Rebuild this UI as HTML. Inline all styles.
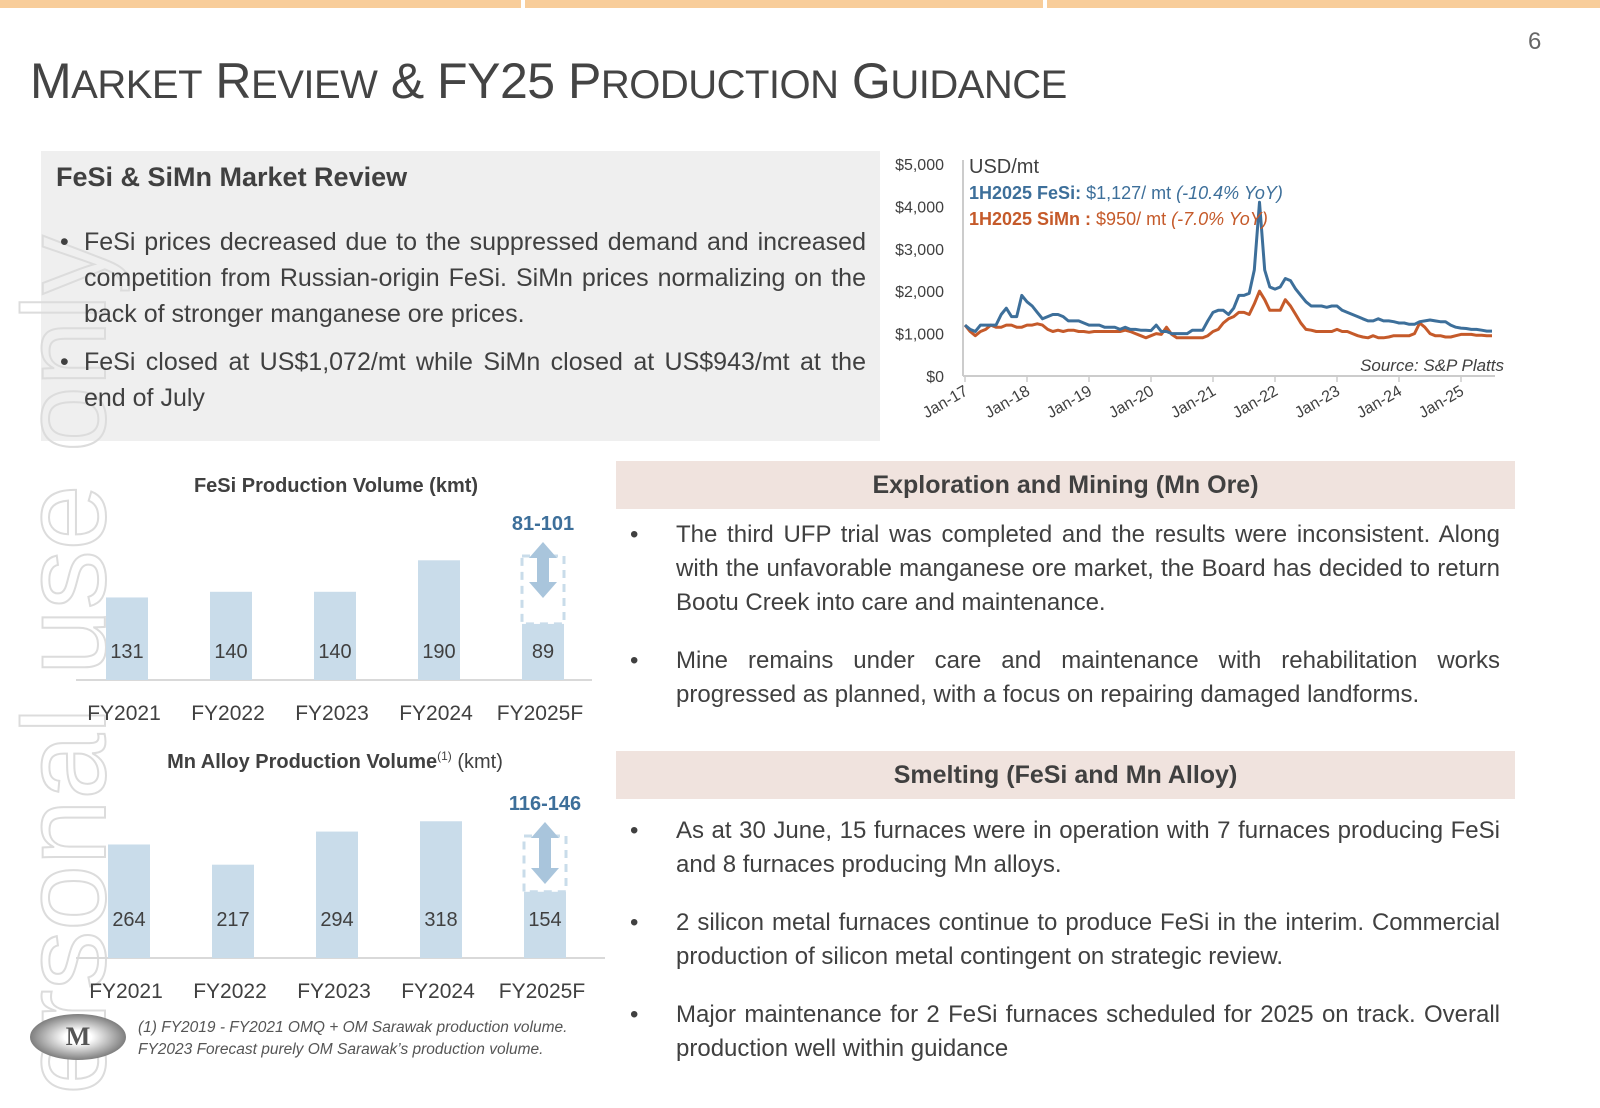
<!DOCTYPE html>
<html><head><meta charset="utf-8">
<style>
*{margin:0;padding:0;box-sizing:border-box}
body{width:1600px;height:1108px;position:relative;overflow:hidden;background:#fff;font-family:"Liberation Sans",sans-serif;color:#404040}
.abs{position:absolute}
.stripe{position:absolute;top:0;height:8px;background:#f8cd9a}
.title{left:30px;top:52px;font-size:50px;letter-spacing:-0.5px;color:#444;white-space:nowrap}
.title small{font-size:40px}
.box{left:41px;top:151px;width:839px;height:290px;background:#efefef}
.bul{position:absolute;text-align:justify;text-align-last:left}
.bul li{list-style:none;position:relative}
.bul li:before{content:"•";position:absolute;left:4px;top:0}
.bul.r li:before{left:2px}
.hdr{position:absolute;left:616px;width:899px;height:48px;background:#f0e3de;font-weight:bold;font-size:25px;text-align:center;line-height:48px;color:#404040}
.wm{position:absolute;left:-375px;top:595px;width:880px;font-size:118px;line-height:140px;transform:rotate(-90deg);color:transparent;-webkit-text-stroke:2px #dcdcdc;white-space:nowrap;font-family:"Liberation Sans",sans-serif;text-align:center}
</style></head><body>
<div class="stripe" style="left:0;width:521px"></div>
<div class="stripe" style="left:525px;width:518px"></div>
<div class="stripe" style="left:1047px;width:553px"></div>
<div class="abs" style="left:1528px;top:28px;font-size:24px;color:#666">6</div>
<div class="abs title">M<small>ARKET</small> R<small>EVIEW</small> &amp; FY25 P<small>RODUCTION</small> G<small>UIDANCE</small></div>

<div class="abs box"></div>
<div class="wm">ersonal use only</div>
<div class="abs" style="left:56px;top:162px;font-size:27px;font-weight:bold">FeSi &amp; SiMn Market Review</div>
<ul class="bul" style="left:56px;top:224px;width:810px;font-size:25px;line-height:36px">
<li style="padding-left:28px;margin-bottom:12px">FeSi prices decreased due to the suppressed demand and increased competition from Russian-origin FeSi. SiMn prices normalizing on the back of stronger manganese ore prices.</li>
<li style="padding-left:28px">FeSi closed at US$1,072/mt while SiMn closed at US$943/mt at the end of July</li>
</ul>

<svg id="price" class="abs" style="left:0;top:0" width="1600" height="460"></svg>

<div class="hdr" style="top:461px">Exploration and Mining (Mn Ore)</div>
<ul class="bul r" style="left:628px;top:518px;width:872px;font-size:24px;line-height:34px">
<li style="padding-left:48px;margin-bottom:24px">The third UFP trial was completed and the results were inconsistent. Along with the unfavorable manganese ore market, the Board has decided to return Bootu Creek into care and maintenance.</li>
<li style="padding-left:48px">Mine remains under care and maintenance with rehabilitation works progressed as planned, with a focus on repairing damaged landforms.</li>
</ul>
<div class="hdr" style="top:751px">Smelting (FeSi and Mn Alloy)</div>
<ul class="bul r" style="left:628px;top:814px;width:872px;font-size:24px;line-height:34px">
<li style="padding-left:48px;margin-bottom:24px">As at 30 June, 15 furnaces were in operation with 7 furnaces producing FeSi and 8 furnaces producing Mn alloys.</li>
<li style="padding-left:48px;margin-bottom:24px">2 silicon metal furnaces continue to produce FeSi in the interim. Commercial production of silicon metal contingent on strategic review.</li>
<li style="padding-left:48px">Major maintenance for 2 FeSi furnaces scheduled for 2025 on track. Overall production well within guidance</li>
</ul>

<svg id="bars" class="abs" style="left:0;top:460px" width="610" height="648"></svg>

<div class="abs" style="left:30px;top:1014px;width:96px;height:46px;border-radius:50%;background:radial-gradient(ellipse at center,#fff 20%,#999 60%,#333 100%);text-align:center;font:bold 26px 'Liberation Serif',serif;line-height:46px;color:#555">M</div>
<div class="abs" style="left:138px;top:1017px;font-size:15.5px;font-style:italic;line-height:22px;color:#555">(1) FY2019 - FY2021 OMQ + OM Sarawak production volume.<br>FY2023 Forecast purely OM Sarawak’s production volume.</div>

<script>
const NS="http://www.w3.org/2000/svg";
function mk(p,t,a,txt){const e=document.createElementNS(NS,t);for(const k in a)e.setAttribute(k,a[k]);if(txt!==undefined)e.textContent=txt;p.appendChild(e);return e;}
// ---- price chart data ----
const yearLabels=["Jan-17","Jan-18","Jan-19","Jan-20","Jan-21","Jan-22","Jan-23","Jan-24","Jan-25"];
const yTicks=[0,1000,2000,3000,4000,5000];
const yTickLabels=["$0","$1,000","$2,000","$3,000","$4,000","$5,000"];
const fesi=[1200,1100,1050,1200,1200,1200,1200,1450,1600,1400,1400,1900,
1750,1650,1500,1350,1400,1450,1450,1400,1300,1300,1300,1250,
1200,1200,1200,1150,1150,1150,1100,1150,1100,1100,1080,1080,
1070,1200,1050,1050,1000,1000,1000,1000,1080,1080,1080,1300,
1500,1550,1550,1450,1600,1900,1900,1950,2500,4100,2500,2100,
2050,2100,2300,2250,2050,1900,1750,1650,1650,1650,1620,1650,
1650,1550,1500,1450,1400,1350,1300,1300,1350,1300,1300,1280,
1250,1250,1220,1220,1280,1300,1320,1300,1280,1280,1200,1150,
1130,1120,1100,1100,1080,1060,1060];
const simn=[1200,1050,950,1050,1100,1200,1150,1150,1200,1200,1150,1150,
1200,1200,1230,1200,1100,1050,1080,1050,1080,1080,1050,1050,
1030,1050,1050,1050,1050,1050,1050,1080,1050,1000,950,900,
950,1000,980,1150,980,900,900,900,900,900,900,950,
1050,1100,1250,1350,1400,1500,1500,1450,1700,2000,1800,1550,
1550,1550,1800,1650,1450,1250,1100,1080,1050,1050,1050,1050,
1100,1050,1050,1000,950,920,900,950,900,900,920,950,
950,950,950,1000,1250,1150,1000,950,950,920,920,950,
980,980,980,960,960,950,950];
const P=document.getElementById('price');
const px=m=>965+m*62/12, py=v=>376-v*212/5000;
mk(P,'line',{x1:963,y1:160,x2:963,y2:376,stroke:'#ccc','stroke-width':2,});
mk(P,'line',{x1:963,y1:376,x2:1495,y2:376,stroke:'#ccc','stroke-width':2,});
yTicks.forEach((v,i)=>{const t=mk(P,'text',{x:944,y:py(v)+6,'text-anchor':'end','font-size':16,fill:'#404040'},yTickLabels[i]);

});
yearLabels.forEach((l,i)=>{const x=px(i*12);
mk(P,'line',{x1:x,y1:376,x2:x,y2:382,stroke:'#ccc','stroke-width':1.5});
const t=mk(P,'text',{x:x+4,y:394,'text-anchor':'end','font-size':16,fill:'#404040',transform:`rotate(-30 ${x+4} 394)`},l);

});
function line(arr,col,name){const d=arr.map((v,i)=>(i?'L':'M')+px(i).toFixed(1)+' '+py(v).toFixed(1)).join(' ');
const p=mk(P,'path',{d:d,fill:'none',stroke:col,'stroke-width':3,'stroke-linejoin':'round'});

}
line(simn,'#c55a2a','simn-line');
line(fesi,'#3d6f9a','fesi-line');
mk(P,'text',{x:969,y:173,'font-size':20,fill:'#404040',},'USD/mt');
const l1=mk(P,'text',{x:969,y:199,'font-size':18,fill:'#3d6f9a',});
mk(l1,'tspan',{'font-weight':'bold'},'1H2025 FeSi: ');mk(l1,'tspan',{},'$1,127/ mt ');mk(l1,'tspan',{'font-style':'italic'},'(-10.4% YoY)');
const l2=mk(P,'text',{x:969,y:225,'font-size':18,fill:'#c55a2a',});
mk(l2,'tspan',{'font-weight':'bold'},'1H2025 SiMn : ');mk(l2,'tspan',{},'$950/ mt ');mk(l2,'tspan',{'font-style':'italic'},'(-7.0% YoY)');
mk(P,'text',{x:1504,y:371,'text-anchor':'end','font-size':17,'font-style':'italic',fill:'#404040',},'Source: S&P Platts');

// ---- bar charts ----
const cats=["FY2021","FY2022","FY2023","FY2024","FY2025F"];
const fesiVol=[131,140,140,190,89];
const mnVol=[264,217,294,318,154];
const fesiGuide="81-101";
const mnGuide="116-146";
const B=document.getElementById('bars');
function barChart(o){
 mk(B,'text',{x:o.tx,y:o.ty,'text-anchor':'middle','font-size':20,'font-weight':'bold',fill:'#404040',},o.title);
 mk(B,'line',{x1:o.x0,y1:o.base,x2:o.x1,y2:o.base,stroke:'#d9d9d9','stroke-width':2});
 o.vals.forEach((v,i)=>{const cx=o.c0+i*o.step,h=v*o.k;
  const r=mk(B,'rect',{x:cx-o.w/2,y:o.base-h,width:o.w,height:h,fill:'#c9dcea'});
  
  
  const t=mk(B,'text',{x:cx,y:o.base-o.lab,'text-anchor':'middle','font-size':20,fill:'#404040'},v);
  
  
  const c=mk(B,'text',{x:cx-3,y:o.base+40,'text-anchor':'middle','font-size':21,fill:'#404040'},cats[i]);
  
  
  if(i===o.vals.length-1){const top=o.boxTop;
   mk(B,'rect',{x:cx-o.w/2,y:top,width:o.w,height:o.base-h-top,fill:'none',stroke:'#c9dcea','stroke-width':3,'stroke-dasharray':'8 6'});
   mk(B,'path',{d:`M${cx} ${top-14} L${cx+14} ${top+2} L${cx+6} ${top+2} L${cx+6} ${o.arrB-16} L${cx+14} ${o.arrB-16} L${cx} ${o.arrB} L${cx-14} ${o.arrB-16} L${cx-6} ${o.arrB-16} L${cx-6} ${top+2} L${cx-14} ${top+2} Z`,fill:'#a9c5dc',});
   mk(B,'text',{x:cx,y:top-26,'text-anchor':'middle','font-size':20,'font-weight':'bold',fill:'#3d6f9a',},o.guide);}
 });
}
barChart({name:'fesi',title:'FeSi Production Volume (kmt)',tx:336,ty:32,vals:fesiVol,base:220,k:0.63,c0:127,step:104,w:42,x0:76,x1:592,lab:22,boxTop:96,arrB:138,guide:fesiGuide});
barChart({name:'mn',title:'',tx:0,ty:0,vals:mnVol,base:498,k:0.43,c0:129,step:104,w:42,x0:76,x1:605,lab:32,boxTop:376,arrB:424,guide:mnGuide});
const mt=mk(B,'text',{x:335,y:308,'text-anchor':'middle','font-size':20,fill:'#404040',});
mk(mt,'tspan',{'font-weight':'bold'},'Mn Alloy Production Volume');mk(mt,'tspan',{'font-size':12,dy:-8},'(1)');mk(mt,'tspan',{dy:8},' (kmt)');
</script>
</body></html>
